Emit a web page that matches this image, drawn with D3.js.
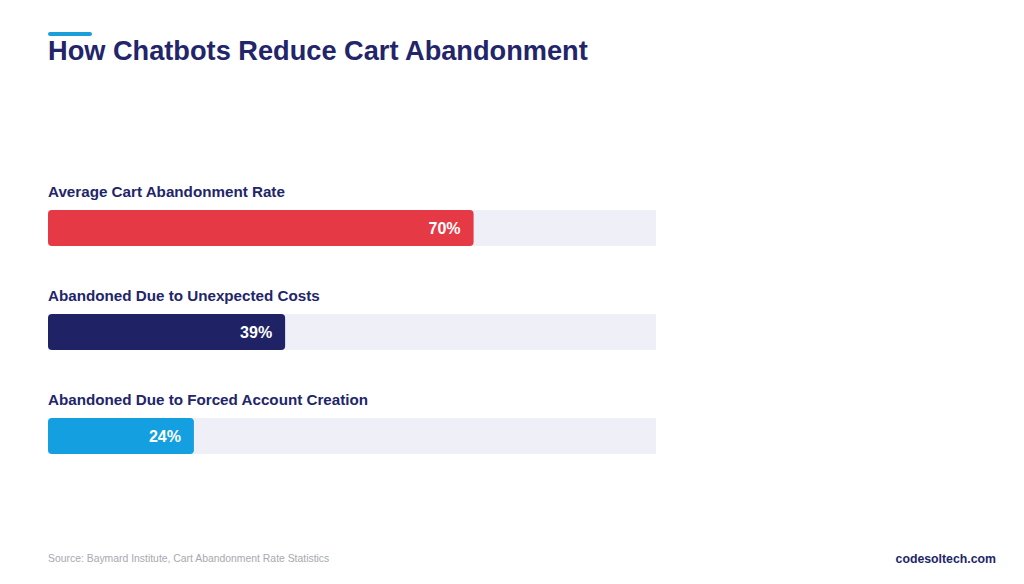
<!DOCTYPE html>
<html><head><meta charset="utf-8">
<script src="https://cdn.jsdelivr.net/npm/d3@7"></script>
<style>html,body{margin:0;padding:0;background:#fff;}svg{display:block;font-family:"Liberation Sans",Arial,sans-serif;}</style>
</head><body>
<svg id="c" width="1024" height="584"></svg>
<script>
const categories = ["Average Cart Abandonment Rate","Abandoned Due to Unexpected Costs","Abandoned Due to Forced Account Creation"];
const values = [70, 39, 24];
const valueLabels = ["70%","39%","24%"];
const colors = ["#e63946","#1f2366","#139fe0"];
const domainMax = 100;

const svg = d3.select("#c");
svg.append("rect").attr("width",1024).attr("height",584).attr("fill","#ffffff");
svg.append("rect").attr("x",48).attr("y",32).attr("width",44).attr("height",4).attr("rx",2).attr("fill","#1a9fdb");
svg.append("text").attr("x",48).attr("y",60).attr("fill","#22256a").attr("font-size",27.2).attr("font-weight","bold").text("How Chatbots Reduce Cart Abandonment");

const x = d3.scaleLinear().domain([0,domainMax]).range([48,656]);
const y = d3.scaleBand().domain(categories).range([180,492]).paddingInner(0).paddingOuter(0);
const barH = 36;
const g = svg.append("g");
categories.forEach((c,i)=>{
  const top = y(c) + 30;
  g.append("text").attr("x",48).attr("y",top-13).attr("fill","#22256a").attr("font-size",15.2).attr("font-weight","bold").text(c);
  g.append("rect").attr("x",x(0)).attr("y",top).attr("width",x(domainMax)-x(0)).attr("height",barH).attr("fill","#eff0f7");
  g.append("rect").attr("x",x(0)).attr("y",top).attr("width",x(values[i])-x(0)).attr("height",barH).attr("rx",4).attr("fill",colors[i]);
  g.append("text").attr("x",x(values[i])-13).attr("y",top+barH/2+5.5).attr("text-anchor","end").attr("fill","#fff").attr("font-size",16).attr("font-weight","bold").text(valueLabels[i]);
});
svg.append("text").attr("x",48).attr("y",562).attr("fill","#a8a8b0").attr("font-size",10.4).text("Source: Baymard Institute, Cart Abandonment Rate Statistics");
svg.append("text").attr("x",996).attr("y",563).attr("text-anchor","end").attr("fill","#22256a").attr("font-size",12.3).attr("font-weight","bold").text("codesoltech.com");
</script>
</body></html>
